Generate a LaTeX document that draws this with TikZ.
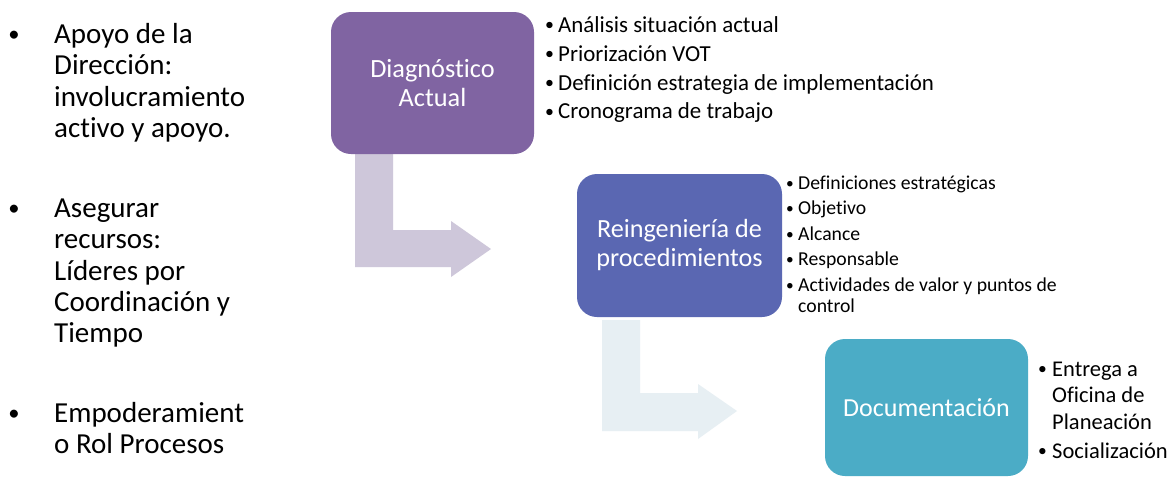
\documentclass[tikz,border=0pt]{standalone}
\usepackage{fontspec}
\setmainfont{Carlito}[Ligatures={NoCommon}]
\definecolor{cpurple}{HTML}{8064A2}
\definecolor{cblue}{HTML}{5A67B2}
\definecolor{caqua}{HTML}{4BACC6}
\definecolor{carrowA}{HTML}{CEC7DA}
\definecolor{carrowB}{HTML}{E7EFF3}
\newcommand\smallbul{\raisebox{0.06em}{\scalebox{0.78}{\textbullet}}}
\newcommand\bul[1]{\makebox[#1pt][l]{\smallbul}}
\newcommand\cont[1]{\hspace*{#1pt}}
\tikzset{
  stagebox/.style={rounded corners=20pt, inner sep=0pt, text=white, align=center},
  listtext/.style={anchor=north west, inner sep=0pt, align=left, text=black},
  lefttext/.style={listtext, font=\fontsize{29}{31.4}\selectfont},
  bulletdot/.style={anchor=base, inner sep=0pt, font=\fontsize{29}{31}\selectfont}
}
\begin{document}
\begin{tikzpicture}[x=1pt,y=-1pt]
\useasboundingbox (0,0) rectangle (1176,477);
\fill[white] (0,0) rectangle (1176,477);
% left bullets
\node[lefttext] (l1) at (54,43-26) {\rule{0pt}{26pt}Apoyo de la\\Dirección:\\involucramiento\\activo y apoyo.};
\node[lefttext] (l2) at (54,217-26) {\rule{0pt}{26pt}Asegurar\\recursos:\\Líderes por\\Coordinación y\\Tiempo};
\node[lefttext] (l3) at (54,422-26) {\rule{0pt}{26pt}Empoderamient\\o Rol Procesos};
\node[bulletdot] (b1) at (14,43) {\smallbul};
\node[bulletdot] (b2) at (14,217) {\smallbul};
\node[bulletdot] (b3) at (14,422) {\smallbul};
% arrows
\fill[carrowA] (355,154) -- (393,154) -- (393,230) -- (451,230) -- (451,221) -- (491,249) -- (451,277) -- (451,267) -- (355,267) -- cycle;
\fill[carrowB] (602,320) -- (640,320) -- (640,393) -- (698,393) -- (698,384) -- (737,411) -- (698,439) -- (698,431) -- (602,431) -- cycle;
% boxes
\node[stagebox, fill=cpurple, minimum width=203pt, minimum height=142pt, font=\fontsize{26.3}{28.5}\selectfont] (d1) at (432.5,83) {Diagnóstico\\Actual};
\node[stagebox, fill=cblue, minimum width=205pt, minimum height=143pt, font=\fontsize{26.2}{29}\selectfont] (d2) at (679.5,245.5) {Reingeniería de\\procedimientos};
\node[stagebox, fill=caqua, minimum width=203pt, minimum height=137pt, font=\fontsize{26}{30}\selectfont] (d3) at (926.5,407.5) {Documentación};
% lists
\node[listtext, font=\fontsize{22.9}{28.9}\selectfont] (t1) at (545,32-24) {\rule{0pt}{24pt}%
\bul{13}Análisis situación actual\\\bul{13}Priorización VOT\\\bul{13}Definición estrategia de implementación\\\bul{13}Cronograma de trabajo};
\node[listtext, font=\fontsize{19.7}{21}\selectfont] (t2) at (786,189-20) {\rule{0pt}{20pt}%
\bul{12}Definiciones estratégicas\\[4.5pt]\bul{12}Objetivo\\[4.5pt]\bul{12}Alcance\\[4.5pt]\bul{12}Responsable\\[4.5pt]\bul{12}Actividades de valor y puntos de\\\cont{12}control};
\node[listtext, font=\fontsize{22.5}{26.5}\selectfont] (t3) at (1038,376-23) {\rule{0pt}{23pt}%
\bul{14}Entrega a\\\cont{14}Oficina de\\\cont{14}Planeación\\[2.5pt]\bul{14}Socialización};
\end{tikzpicture}
\end{document}
